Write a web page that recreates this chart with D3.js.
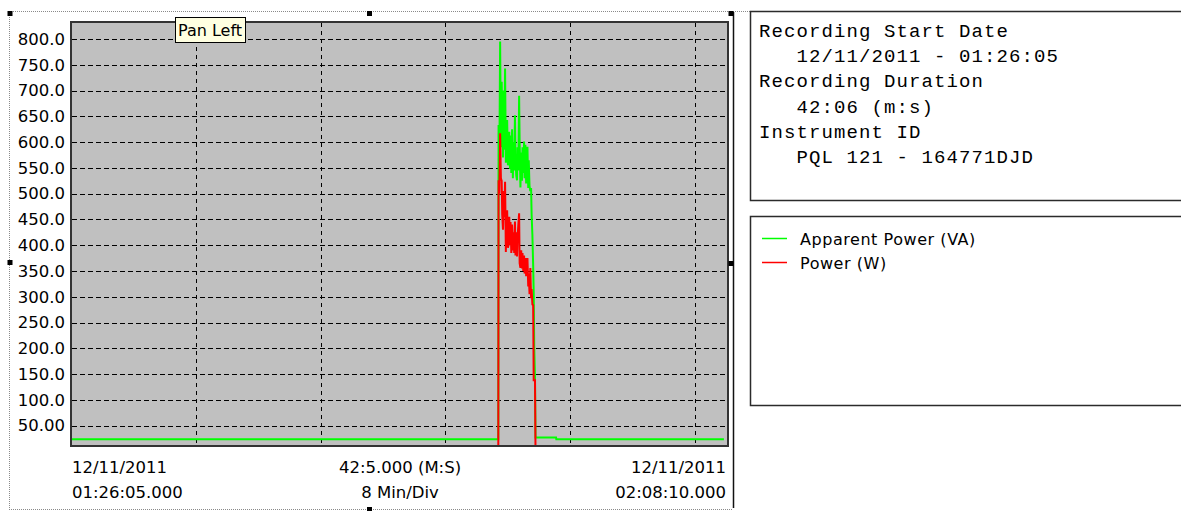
<!DOCTYPE html>
<html><head><meta charset="utf-8">
<script src="https://cdn.jsdelivr.net/npm/d3@7/dist/d3.min.js"></script>
<style>
html,body{margin:0;padding:0;background:#fff;overflow:hidden}
svg{display:block}
</style></head><body>
<svg id="c" width="1181" height="511"></svg>
<script>
// ---- data (seconds from recording start, values) ----
const timeSec = [0, 1643,
  1644,1647,1650,1653,1656,1658,1661,1664,1666,1669,1672,1674,1677,1680,1682,1685,1688,1690,
  1693,1696,1699,1701,1704,1707,1709,1712,1715,1717,1720,1723,1725,1728,1731,1734,1736,1739,
  1742,1744,1747,1750,1752,1755,1758,1760,1763,1766,1769,1771,1774,1777,1779,1781,1784,
  1786, 1865, 1866, 2510];
const apparentPowerVA = [23.6, 23.6,
  633,560,795,590,717,640,570,700,585,743,560,630,643,555,560,620,548,613,
  540,625,530,600,545,652,570,535,526,590,545,690,600,512,580,525,590,540,
  601,530,595,520,575,591,511,565,515,505,511,460,420,360,309,204,140,
  27, 27, 23.6, 23.6];
const powerW = [0, 0,
  526,500,617,530,525,460,430,505,455,523,387,450,468,395,400,455,400,445,
  385,440,390,425,385,446,380,425,378,415,440,462,365,356,390,355,385,350,
  380,345,375,340,365,375,320,345,305,356,297,315,285,284,138,138,138,
  0, 0, 0, 0];
const seriesNames = ["Apparent Power (VA)", "Power (W)"];
const yTickValues = [50,100,150,200,250,300,350,400,450,500,550,600,650,700,750,800];
const yTickLabels = ["50.00","100.0","150.0","200.0","250.0","300.0","350.0","400.0","450.0","500.0","550.0","600.0","650.0","700.0","750.0","800.0"];
const xGridSec = [480, 960, 1440, 1920, 2400];
const xLabelsStart = ["12/11/2011", "01:26:05.000"];
const xLabelsMid = ["42:5.000 (M:S)", "8 Min/Div"];
const xLabelsEnd = ["12/11/2011", "02:08:10.000"];
const infoLines = ["Recording Start Date", "   12/11/2011 - 01:26:05", "Recording Duration", "   42:06 (m:s)", "Instrument ID", "   PQL 121 - 164771DJD"];
const tooltipText = "Pan Left";

// ---- drawing ----
const svg = d3.select("#c");
const colors = ["#00ff00", "#ff0000"];
const sansFont = "'DejaVu Sans', sans-serif";

const x = d3.scaleLinear().domain([0, 2525]).range([70.8, 727.8]);
const y = d3.scaleLinear().domain([10.6, 833]).range([446, 22]);

const P = {l: 71, t: 22, r: 728, b: 446};

// selection frame
const dotted = {stroke: "#8a8a8a", dash: "1,1"};
svg.append("line").attr("x1", 9).attr("x2", 1181).attr("y1", 11.5).attr("y2", 11.5)
  .attr("stroke", dotted.stroke).attr("stroke-dasharray", dotted.dash);
svg.append("line").attr("x1", 9.5).attr("x2", 9.5).attr("y1", 11).attr("y2", 510)
  .attr("stroke", dotted.stroke).attr("stroke-dasharray", dotted.dash);
svg.append("line").attr("x1", 9).attr("x2", 733).attr("y1", 509.5).attr("y2", 509.5)
  .attr("stroke", dotted.stroke).attr("stroke-dasharray", dotted.dash);
svg.append("line").attr("x1", 733.5).attr("x2", 733.5).attr("y1", 12).attr("y2", 508)
  .attr("stroke", "#111").attr("stroke-width", 1.5);

// plot background
svg.append("rect").attr("x", P.l).attr("y", P.t).attr("width", P.r - P.l).attr("height", P.b - P.t)
  .attr("fill", "#c0c0c0");

// gridlines
const grid = svg.append("g").attr("shape-rendering", "crispEdges");
grid.selectAll(".h").data(yTickValues).join("line")
  .attr("x1", P.l + 1).attr("x2", P.r - 1)
  .attr("y1", d => Math.round(y(d)) + 0.5).attr("y2", d => Math.round(y(d)) + 0.5)
  .attr("stroke", "#000").attr("stroke-dasharray", "5,3");
grid.selectAll(".v").data(xGridSec).join("line")
  .attr("y1", P.t + 1).attr("y2", P.b - 1)
  .attr("x1", d => Math.round(x(d)) + 0.5).attr("x2", d => Math.round(x(d)) + 0.5)
  .attr("stroke", "#000").attr("stroke-dasharray", "4,4");

// data lines
svg.append("clipPath").attr("id", "clip").append("rect")
  .attr("x", P.l).attr("y", P.t).attr("width", P.r - P.l).attr("height", P.b - P.t);
const seriesVals = [apparentPowerVA, powerW];
const line = d3.line().x(d => x(d[0])).y(d => y(d[1]));
seriesVals.forEach((vals, k) => {
  svg.append("path").attr("clip-path", "url(#clip)")
    .attr("d", line(timeSec.map((t, i) => [t, vals[i]])))
    .attr("fill", "none").attr("stroke", colors[k]).attr("stroke-width", 2)
    .attr("stroke-linejoin", "miter");
});

// plot border
svg.append("rect").attr("x", P.l).attr("y", P.t).attr("width", P.r - P.l).attr("height", P.b - P.t)
  .attr("fill", "none").attr("stroke", "#333").attr("stroke-width", 2);

// y axis
const yAxis = d3.axisLeft(y).tickValues(yTickValues).tickFormat((d, i) => yTickLabels[i])
  .tickSize(0).tickPadding(6);
const gy = svg.append("g").attr("transform", `translate(${P.l},0)`).call(yAxis);
gy.select(".domain").remove();
gy.selectAll("text").attr("font-family", sansFont).attr("font-size", 16.5).attr("fill", "#000");

// x labels
const xl = svg.append("g").attr("font-family", sansFont).attr("font-size", 16.5).attr("fill", "#000");
xl.selectAll(".s").data(xLabelsStart).join("text").attr("x", 72).attr("y", (d, i) => 473 + i * 25)
  .attr("text-anchor", "start").text(d => d);
xl.selectAll(".m").data(xLabelsMid).join("text").attr("x", 400).attr("y", (d, i) => 473 + i * 25)
  .attr("text-anchor", "middle").text(d => d);
xl.selectAll(".e").data(xLabelsEnd).join("text").attr("x", 726).attr("y", (d, i) => 473 + i * 25)
  .attr("text-anchor", "end").text(d => d);

// handles
const handles = [[7.5, 11], [367, 11], [728.5, 11], [7.5, 260], [728.5, 261], [367, 507]];
svg.selectAll(".hd").data(handles).join("rect").attr("x", d => d[0]).attr("y", d => d[1])
  .attr("width", 5).attr("height", 5).attr("fill", "#000");

// tooltip
svg.append("rect").attr("x", 175.5).attr("y", 17.5).attr("width", 70).attr("height", 25)
  .attr("fill", "#ffffe1").attr("stroke", "#000");
svg.append("text").attr("x", 178).attr("y", 36).attr("font-family", sansFont).attr("font-size", 16)
  .attr("fill", "#000").text(tooltipText);

// info box
svg.append("rect").attr("x", 750.5).attr("y", 11.5).attr("width", 440).attr("height", 189)
  .attr("fill", "#fff").attr("stroke", "#2b2b2b").attr("stroke-width", 1.5);
svg.append("g").selectAll("text").data(infoLines).join("text")
  .attr("x", 759).attr("y", (d, i) => 37 + i * 25.2)
  .attr("font-family", "'Liberation Mono', monospace").attr("font-size", 19)
  .attr("letter-spacing", 1.1).style("white-space", "pre").attr("fill", "#000").text(d => d);

// legend box
svg.append("rect").attr("x", 750.5).attr("y", 216.5).attr("width", 440).attr("height", 189)
  .attr("fill", "#fff").attr("stroke", "#2b2b2b").attr("stroke-width", 1.5);
const lg = svg.append("g").selectAll("g").data(seriesNames).join("g")
  .attr("transform", (d, i) => `translate(0,${238.5 + i * 24})`);
lg.append("line").attr("x1", 762).attr("x2", 787).attr("y1", 0).attr("y2", 0)
  .attr("stroke", (d, i) => colors[i]).attr("stroke-width", 1.5);
lg.append("text").attr("x", 800).attr("y", 6).attr("font-family", sansFont).attr("font-size", 16)
  .attr("letter-spacing", 0.55).attr("fill", "#000").text(d => d);
</script>
</body></html>
